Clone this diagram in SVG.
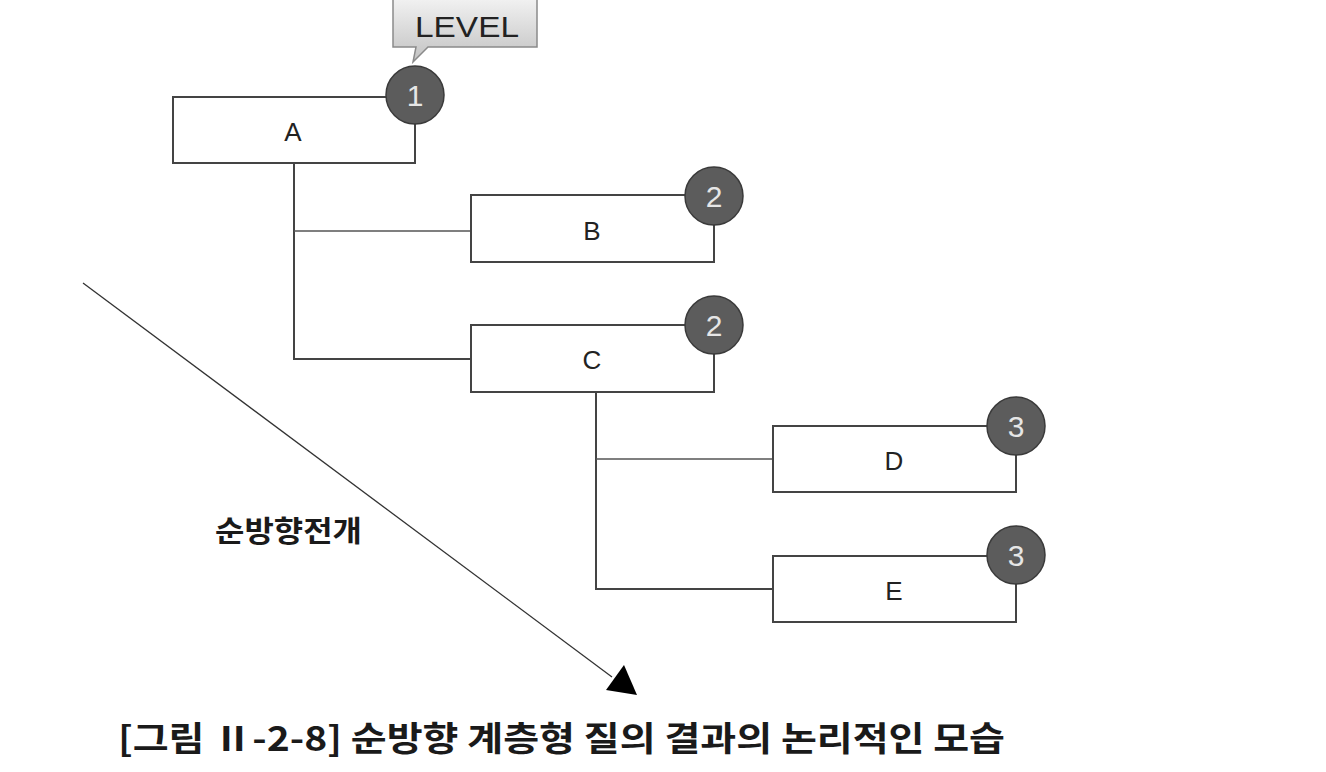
<svg xmlns="http://www.w3.org/2000/svg" width="1326" height="772" viewBox="0 0 1326 772">
<style>
.box{fill:#fff;stroke:#444;stroke-width:2}
.badge{fill:#5c5c5c;stroke:#3a3a3a;stroke-width:1.5}
.num{font-family:"Liberation Sans",Arial,sans-serif;font-size:30px;fill:#e6e6e6;text-anchor:middle}
.lbl{font-family:"Liberation Sans",Arial,sans-serif;font-size:26px;fill:#222;text-anchor:middle}
.conn{fill:none;stroke:#444;stroke-width:2}
.conn-thin{fill:none;stroke:#555;stroke-width:1.3}
.kr{font-family:"Noto Sans CJK KR","Noto Sans",sans-serif;font-weight:bold;fill:#1a1a1a}
</style>
<defs>
<linearGradient id="callg" x1="0" y1="0" x2="0" y2="1">
<stop offset="0" stop-color="#f2f2f2"/>
<stop offset="1" stop-color="#c2c2c2"/>
</linearGradient>
</defs>
<rect width="1326" height="772" fill="#fff"/>

<g id="level-callout">
<path d="M393,-2 L537,-2 L537,47 L428,47 L413,62 L416,47 L393,47 Z" fill="url(#callg)" stroke="#8a8a8a" stroke-width="1.5"/>
<text x="467" y="37" font-family="Liberation Sans,Arial,sans-serif" font-size="29" fill="#222" text-anchor="middle" textLength="104" lengthAdjust="spacingAndGlyphs">LEVEL</text>
</g>

<g id="connectors">
<path class="conn" d="M294,163 V359 H471"/>
<path class="conn-thin" d="M294,231 H471"/>
<path class="conn" d="M596,392 V589 H773"/>
<path class="conn-thin" d="M596,459 H773"/>
<line x1="83" y1="283" x2="612" y2="677" stroke="#333" stroke-width="1.3"/>
<path d="M606,690 L624,665 L637,695 Z" fill="#000"/>
</g>

<g id="node-A">
<path class="box" d="M386,97 H173 V163 H415 V124"/>
<circle class="badge" cx="415" cy="95" r="29"/>
<text class="num" x="415" y="106">1</text>
<text class="lbl" x="293" y="141">A</text>
</g>
<g id="node-B">
<path class="box" d="M685,195 H471 V262 H714 V225"/>
<circle class="badge" cx="714" cy="196" r="29"/>
<text class="num" x="714" y="207">2</text>
<text class="lbl" x="592" y="240">B</text>
</g>
<g id="node-C">
<path class="box" d="M685,325 H471 V392 H714 V354"/>
<circle class="badge" cx="714" cy="325" r="29"/>
<text class="num" x="714" y="336">2</text>
<text class="lbl" x="592" y="369">C</text>
</g>
<g id="node-D">
<path class="box" d="M987,426 H773 V492 H1016 V455"/>
<circle class="badge" cx="1016" cy="426" r="29"/>
<text class="num" x="1016" y="437">3</text>
<text class="lbl" x="894" y="470">D</text>
</g>
<g id="node-E">
<path class="box" d="M987,556 H773 V622 H1016 V584"/>
<circle class="badge" cx="1016" cy="555" r="29"/>
<text class="num" x="1016" y="566">3</text>
<text class="lbl" x="894" y="600">E</text>
</g>

<text class="kr" x="215" y="542" font-size="29" textLength="147" lengthAdjust="spacingAndGlyphs">순방향전개</text>
<text class="kr" x="118" y="751" font-size="34" textLength="887" lengthAdjust="spacingAndGlyphs">[그림 Ⅱ-2-8] 순방향 계층형 질의 결과의 논리적인 모습</text>
</svg>
